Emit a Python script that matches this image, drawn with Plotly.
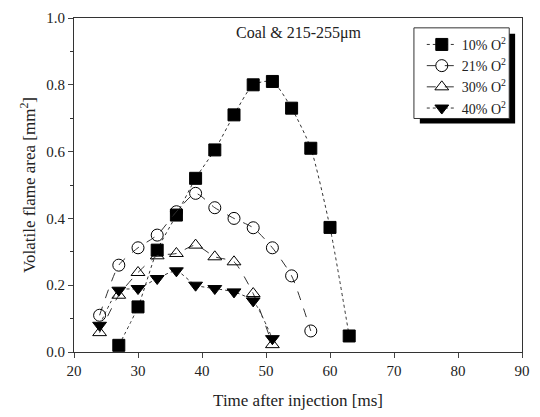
import plotly.graph_objects as go

x10 = [27, 30, 33, 36, 39, 42, 45, 48, 51, 54, 57, 60, 63]
y10 = [0.02, 0.135, 0.305, 0.41, 0.52, 0.605, 0.71, 0.80, 0.81, 0.73, 0.61, 0.373, 0.048]
x21 = [24, 27, 30, 33, 36, 39, 42, 45, 48, 51, 54, 57]
y21 = [0.11, 0.26, 0.312, 0.35, 0.42, 0.475, 0.432, 0.40, 0.372, 0.312, 0.228, 0.063]
x30 = [24, 27, 30, 33, 36, 39, 42, 45, 48, 51]
y30 = [0.058, 0.17, 0.238, 0.288, 0.295, 0.32, 0.285, 0.27, 0.175, 0.022]
x40 = [24, 27, 30, 33, 36, 39, 42, 45, 48, 51]
y40 = [0.08, 0.185, 0.19, 0.22, 0.243, 0.2, 0.19, 0.18, 0.153, 0.04]

names = ["10% O<sup>2</sup>", "21% O<sup>2</sup>", "30% O<sup>2</sup>", "40% O<sup>2</sup>"]
FONT = "Liberation Serif"

fig = go.Figure()
series = [
    (x10, y10, names[0], "square", "dot"),
    (x21, y21, names[1], "circle-open", "dash"),
    (x30, y30, names[2], "triangle-up-open", "dash"),
    (x40, y40, names[3], "triangle-down", "dot"),
]
for xs, ys, nm, sym, dash in series:
    fig.add_trace(go.Scatter(
        x=xs, y=ys, name=nm, mode="lines+markers",
        line=dict(color="#333", width=1, dash=dash, shape="spline", smoothing=0.6),
        marker=dict(symbol=sym, size=12, color="black",
                    line=dict(color="black", width=1)),
    ))

L, R, T, B = 74, 10, 15, 63
W, H = 540, 417
pw, ph = W - L - R, H - T - B

def px(xp):
    return (xp - L) / pw

def py(yp):
    return (H - B - yp) / ph

# legend shadow and box
fig.add_shape(type="rect", xref="paper", yref="paper",
              x0=px(426), x1=px(523), y0=py(122), y1=py(31),
              fillcolor="black", line=dict(width=0), layer="above")
fig.add_shape(type="rect", xref="paper", yref="paper",
              x0=px(420), x1=px(517), y0=py(117), y1=py(25),
              fillcolor="white", line=dict(color="#333", width=1), layer="above")

fig.update_layout(
    width=W, height=H,
    margin=dict(l=L, r=R, t=T, b=B),
    paper_bgcolor="white", plot_bgcolor="white",
    font=dict(family=FONT, size=14, color="#222"),
    showlegend=True,
    legend=dict(x=px(428), y=py(26), xanchor="left", yanchor="top",
                bgcolor="rgba(0,0,0,0)", borderwidth=0,
                font=dict(family=FONT, size=14), itemwidth=30,
                tracegroupgap=0),
    annotations=[dict(text="Coal &amp; 215-255μm", x=px(303), y=py(30),
                      xref="paper", yref="paper", showarrow=False,
                      xanchor="center", yanchor="middle",
                      font=dict(family=FONT, size=16))],
)
fig.update_xaxes(range=[20, 90], dtick=10, tick0=20, ticks="outside", ticklen=5,
                 showline=True, linecolor="#333", linewidth=1, mirror=True,
                 showgrid=False, zeroline=False,
                 title=dict(text="Time after injection [ms]", standoff=16,
                            font=dict(family=FONT, size=17)),
                 tickfont=dict(family=FONT, size=15))
fig.update_yaxes(range=[0, 1.0], dtick=0.2, tick0=0, ticks="outside", ticklen=5,
                 tickformat=".1f",
                 showline=True, linecolor="#333", linewidth=1, mirror=True,
                 showgrid=False, zeroline=False,
                 minor=dict(dtick=0.1, ticks="outside", ticklen=3, tickcolor="#333"),
                 title=dict(text="Volatile flame area [mm<sup>2</sup>]", standoff=6,
                            font=dict(family=FONT, size=17)),
                 tickfont=dict(family=FONT, size=15))

fig.write_html("out.html")
